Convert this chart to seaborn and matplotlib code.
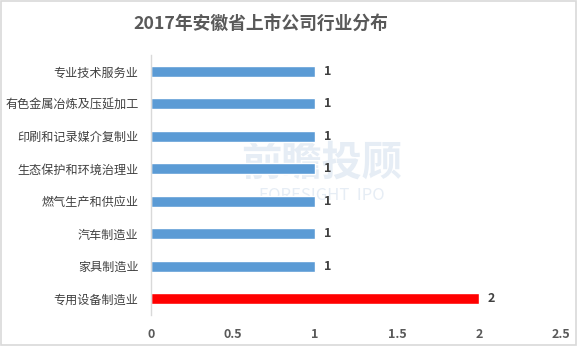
import matplotlib
matplotlib.use("Agg")
import matplotlib.pyplot as plt
import seaborn as sns
import pandas as pd
from matplotlib.patches import Rectangle

categories = ["专业技术服务业", "有色金属冶炼及压延加工", "印刷和记录媒介复制业", "生态保护和环境治理业",
              "燃气生产和供应业", "汽车制造业", "家具制造业", "专用设备制造业"]
values = [1, 1, 1, 1, 1, 1, 1, 2]
bar_colors = ["#5b9bd5"] * 7 + ["#ff0000"]
xticks = [0, 0.5, 1, 1.5, 2, 2.5]
xtick_labels = ["0", "0.5", "1", "1.5", "2", "2.5"]
title = "2017年安徽省上市公司行业分布"

sns.set_theme(style="white")
plt.rcParams['font.family'] = ['Noto Sans CJK SC', 'DejaVu Sans']

df = pd.DataFrame({"cat": categories, "val": values})

fig = plt.figure(figsize=(5.77, 3.46), dpi=100)
ax = fig.add_axes([151/577, 1 - 315/346, (561 - 151)/577, (315 - 55)/346])

# watermark (behind the axes)
fig.text(322/577, 1 - 163/346, "前瞻投顾", fontsize=29, color="#e6edf5", ha="center", va="center",
         fontweight="bold", zorder=-1)
fig.text(322/577, 1 - 195/346, "FORESIGHT  IPO", fontsize=12, color="#e6edf5", ha="center", va="center",
         zorder=-1)

sns.barplot(data=df, x="val", y="cat", hue="cat", palette=bar_colors, legend=False,
            width=0.34, ax=ax, saturation=1, zorder=2)
ax.patch.set_alpha(0)

ax.set_xlim(0, 2.5)
ax.set_ylim(len(categories) - 0.5, -0.5)
ax.set_xticks(xticks)
ax.set_xticklabels(xtick_labels, fontweight="bold", fontsize=9, color="#595959")
ax.tick_params(axis="y", labelsize=8.7, labelcolor="#404040", length=0, pad=9)
ax.tick_params(axis="x", length=0, pad=9)
ax.set_xlabel("")
ax.set_ylabel("")
for s in ["top", "right", "bottom"]:
    ax.spines[s].set_visible(False)
ax.spines["left"].set_color("#d9d9d9")
ax.spines["left"].set_linewidth(1)

for i, v in enumerate(values):
    ax.text(v + 0.055, i, str(v), va="center", ha="left", fontsize=9, fontweight="bold", color="#404040")

fig.text(261/577, 1 - 24/346, title, fontsize=12.8, fontweight="bold", color="#595959",
         ha="center", va="center")

fig.patches.append(Rectangle((0.001, 0.002), 0.997, 0.995, transform=fig.transFigure,
                             fill=False, edgecolor="#d9d9d9", linewidth=1.2))

fig.savefig("out.png", dpi=100)
